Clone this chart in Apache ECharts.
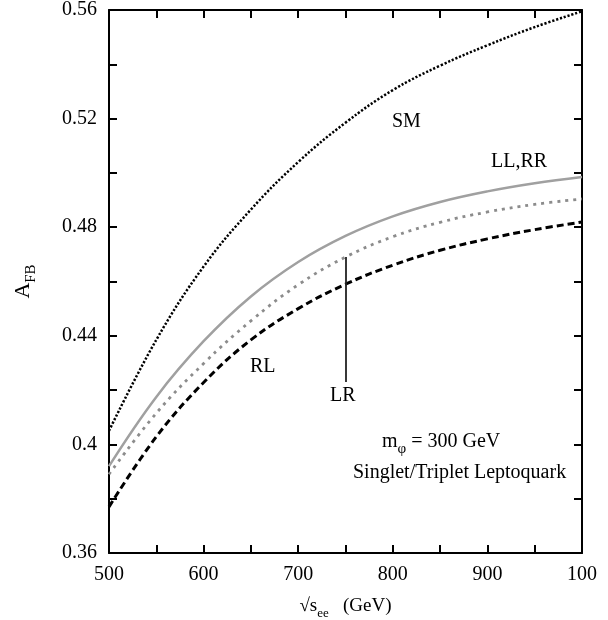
<!DOCTYPE html>
<html>
<head>
<meta charset="utf-8">
<script src="https://cdn.jsdelivr.net/npm/echarts@6/dist/echarts.min.js"></script>
<style>
html, body { margin: 0; padding: 0; background: #fff; }
#main { width: 608px; height: 620px; }
</style>
</head>
<body>
<div id="main"></div>
<script>
// sqrt(s) in GeV
var energies = [500, 550, 600, 650, 700, 750, 800, 850, 900, 950, 1000];
// A_FB curves
var smVals   = [0.405, 0.4385, 0.4655, 0.4865, 0.504, 0.5185, 0.5305, 0.5395, 0.547, 0.5537, 0.5595];
var llrrVals = [0.392, 0.4175, 0.438, 0.4545, 0.4672, 0.4768, 0.484, 0.4893, 0.4932, 0.4962, 0.4985];
var lrVals   = [0.389, 0.4115, 0.4298, 0.4455, 0.4588, 0.469, 0.4765, 0.4818, 0.4856, 0.4884, 0.4904];
var rlVals   = [0.377, 0.4028, 0.4228, 0.4385, 0.45, 0.459, 0.466, 0.4715, 0.4757, 0.4791, 0.4819];
var lrMarker = [[750, 0.469], [750, 0.423]];

function pairs(vals) {
	var out = [];
	for (var i = 0; i < energies.length; i++) {
		out.push([energies[i], vals[i]]);
	}
	return out;
}

var serif = 'Liberation Serif';
var myChart = echarts.init(document.getElementById('main'));

var option = {
	backgroundColor: '#fff',
	animation: false,
	textStyle: { fontFamily: serif, color: '#000' },
	grid: { left: 109, right: 26, top: 10, bottom: 67, containLabel: false, outerBoundsMode: 'none' },
	xAxis: [
		{
			type: 'value', min: 500, max: 1000, interval: 50,
			axisLine: { lineStyle: { color: '#000', width: 2 } },
			axisTick: { inside: true, length: 8, lineStyle: { color: '#000', width: 2 } },
			splitLine: { show: false },
			axisLabel: {
				margin: 12, fontFamily: serif, fontSize: 20, color: '#000',
				formatter: function (v) {
					if (v % 100 !== 0) return '';
					return v === 1000 ? '100' : String(v);
				}
			},
			name: '{n|√s}{s|ee}{n|   (GeV)}',
			nameLocation: 'middle',
			nameGap: 44,
			nameTextStyle: {
				rich: {
					n: { fontFamily: serif, fontSize: 19, color: '#000', verticalAlign: 'bottom', padding: [0, 0, 4, 0] },
					s: { fontFamily: serif, fontSize: 13, color: '#000', verticalAlign: 'bottom' }
				}
			}
		},
		{
			type: 'value', position: 'top', min: 500, max: 1000, interval: 50,
			axisLine: { lineStyle: { color: '#000', width: 2 } },
			axisTick: { inside: true, length: 8, lineStyle: { color: '#000', width: 2 } },
			axisLabel: { show: false },
			splitLine: { show: false }
		}
	],
	yAxis: [
		{
			type: 'value', min: 0.36, max: 0.56, interval: 0.02,
			axisLine: { show: true, lineStyle: { color: '#000', width: 2 } },
			axisTick: { show: true, inside: true, length: 8, lineStyle: { color: '#000', width: 2 } },
			splitLine: { show: false },
			axisLabel: {
				margin: 12, fontFamily: serif, fontSize: 20, color: '#000',
				formatter: function (v) {
					var k = Math.round(v * 100);
					if (k % 4 !== 0) return '';
					return String(k / 100);
				}
			},
			name: '{a|A}{s|FB}',
			nameLocation: 'middle',
			nameRotate: 90,
			nameGap: 70,
			nameTextStyle: {
				rich: {
					a: { fontFamily: serif, fontSize: 22, color: '#000', verticalAlign: 'bottom', padding: [0, 0, 5, 0] },
					s: { fontFamily: serif, fontSize: 15, color: '#000', verticalAlign: 'bottom' }
				}
			}
		},
		{
			type: 'value', position: 'right', min: 0.36, max: 0.56, interval: 0.02,
			axisLine: { show: true, lineStyle: { color: '#000', width: 2 } },
			axisTick: { show: true, inside: true, length: 8, lineStyle: { color: '#000', width: 2 } },
			axisLabel: { show: false },
			splitLine: { show: false }
		}
	],
	series: [
		{
			name: 'SM', type: 'line', smooth: 0.4, symbol: 'none',
			data: pairs(smVals),
			lineStyle: { color: '#000', width: 2.5, type: [2.2, 1.8] }
		},
		{
			name: 'LL,RR', type: 'line', smooth: 0.4, symbol: 'none',
			data: pairs(llrrVals),
			lineStyle: { color: '#a0a0a0', width: 2.5, type: 'solid' }
		},
		{
			name: 'LR', type: 'line', smooth: 0.4, symbol: 'none',
			data: pairs(lrVals),
			lineStyle: { color: '#8c8c8c', width: 2.8, type: [3, 5] },
			markLine: {
				silent: true, symbol: 'none', label: { show: false },
				lineStyle: { color: '#222', width: 1.8, type: 'solid' },
				data: [[{ coord: lrMarker[0] }, { coord: lrMarker[1] }]]
			}
		},
		{
			name: 'RL', type: 'line', smooth: 0.4, symbol: 'none',
			data: pairs(rlVals),
			lineStyle: { color: '#000', width: 3, type: [7, 4] }
		}
	],
	graphic: [
		{ type: 'text', left: 392, top: 112, style: { text: 'SM', fontFamily: serif, fontSize: 20, fill: '#000' } },
		{ type: 'text', left: 491, top: 152, style: { text: 'LL,RR', fontFamily: serif, fontSize: 20, fill: '#000' } },
		{ type: 'text', left: 250, top: 357, style: { text: 'RL', fontFamily: serif, fontSize: 20, fill: '#000' } },
		{ type: 'text', left: 330, top: 386, style: { text: 'LR', fontFamily: serif, fontSize: 20, fill: '#000' } },
		{
			type: 'text', left: 382, top: 432,
			style: {
				text: '{n|m}{s|φ}{n| = 300 GeV}',
				rich: {
					n: { fontFamily: serif, fontSize: 20, fill: '#000', verticalAlign: 'bottom', padding: [0, 0, 5, 0] },
					s: { fontFamily: serif, fontSize: 15, fill: '#000', verticalAlign: 'bottom' }
				}
			}
		},
		{ type: 'text', left: 353, top: 463, style: { text: 'Singlet/Triplet Leptoquark', fontFamily: serif, fontSize: 20, fill: '#000' } }
	]
};
myChart.setOption(option);
</script>
</body>
</html>
